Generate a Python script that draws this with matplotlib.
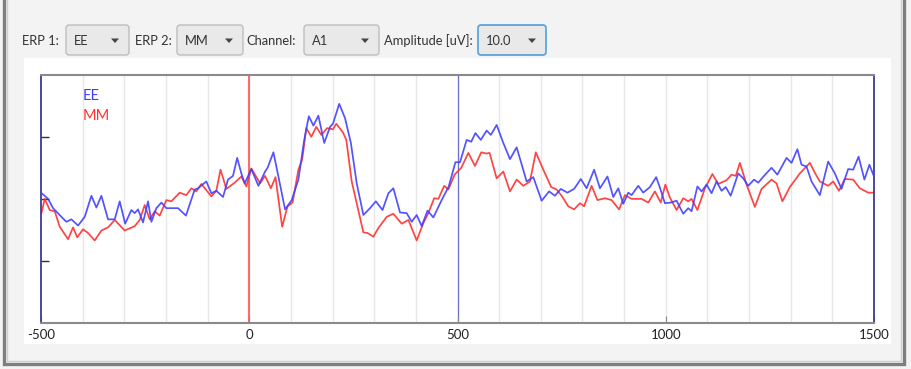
import matplotlib
matplotlib.use("Agg")
import matplotlib.pyplot as plt
from matplotlib.patches import FancyBboxPatch, Rectangle, Polygon

# ERP averages (time in ms, amplitude in uV)
ee_t = [-500, -483, -471, -451, -439, -427, -411, -395, -379, -367, -355, -339, -323, -311,
        -298, -283, -275, -267, -255, -243, -235, -223, -211, -199, -171, -152, -131, -123,
        -103, -91, -79, -63, -51, -39, -29, -19, -11, 5, 22, 38, 44, 58, 70, 86, 102, 118,
        132, 143, 154, 166, 180, 194, 201, 216, 230, 244, 258, 274, 290, 304, 320, 334, 346,
        362, 378, 390, 402, 414, 428, 442, 462, 479, 495, 506, 522, 533, 543, 556, 570, 580,
        594, 610, 626, 642, 666, 682, 702, 720, 734, 748, 764, 780, 796, 810, 828, 842, 860,
        874, 886, 898, 910, 918, 934, 946, 962, 977, 985, 998, 1012, 1026, 1042, 1054, 1062,
        1076, 1086, 1098, 1110, 1122, 1134, 1144, 1156, 1174, 1186, 1198, 1212, 1222, 1236,
        1254, 1268, 1290, 1302, 1316, 1326, 1338, 1350, 1370, 1390, 1406, 1422, 1438, 1450,
        1463, 1477, 1489, 1500]
ee_v = [1.0, 0.0, -1.5, -2.9, -3.7, -3.3, -4.3, -2.9, 0.5, -1.4, 0.5, -3.3, -3.3, -0.4,
        -4.0, -1.8, -2.3, -1.7, -3.8, -0.4, -3.7, -1.5, -0.6, -1.5, -1.5, -2.7, 1.5, 1.7,
        2.8, 0.9, 1.3, 0.3, 3.1, 3.7, 6.6, 4.1, 2.5, 4.8, 2.1, 4.4, 5.0, 7.5, 3.6, -1.7, -0.2, 3.1,
        9.5, 13.3, 11.8, 13.4, 9.0, 11.6, 12.1, 15.3, 13.0, 9.0, 2.5, -2.6, -1.5, -0.4, -1.8, 0.9, 1.7,
        -2.2, -2.3, -3.7, -2.6, -4.4, -1.9, -3.0, -0.2, 2.0, 5.9, 5.9, 9.5, 9.2, 10.6, 9.5, 11.0, 10.3,
        11.9, 9.0, 6.4, 8.3, 2.8, 3.5, -0.3, 1.2, 0.5, 1.6, 1.0, 1.6, 3.2, 1.7, 4.7, 1.7, 3.6,
        0.3, 1.7, -0.8, 1.0, 0.6, 2.1, 1.0, 1.9, 3.5, 2.0, -0.7, -0.6, -0.3, -2.4, -1.5, -2.0,
        2.0, 1.2, 2.3, 0.9, 2.8, 1.3, 1.9, 0.5, 4.1, 3.3, 2.1, 3.1, 2.6, 3.7,
        5.0, 3.9, 6.6, 5.8, 8.0, 5.5, 5.2, 2.8, 0.6, 6.0, 4.1, 1.6, 4.8, 4.7,
        6.8, 3.1, 5.5, 3.6]

mm_t = [-500, -491, -479, -467, -455, -435, -423, -413, -399, -387, -371, -355, -339, -323,
        -299, -275, -263, -251, -239, -227, -215, -199, -187, -167, -151, -139, -127, -115,
        -91, -79, -69, -55, -35, -19, -7, 5, 26, 38, 52, 63, 79, 92, 104, 118, 127, 137, 149,
        161, 173, 187, 201, 209, 225, 233, 246, 258, 274, 284, 298, 310, 330, 346, 366, 382,
        402, 418, 430, 444, 454, 468, 478, 493, 509, 526, 542, 557, 569, 577, 594, 610, 626,
        642, 658, 674, 688, 704, 725, 738, 750, 766, 780, 794, 804, 822, 836, 854, 870, 888,
        902, 918, 942, 958, 974, 988, 999, 1010, 1026, 1042, 1054, 1062, 1076, 1094, 1112,
        1126, 1146, 1158, 1168, 1178, 1194, 1214, 1230, 1254, 1266, 1280, 1298, 1322, 1346,
        1358, 1370, 1390, 1402, 1416, 1430, 1450, 1466, 1486, 1500]
mm_v = [-2.6, 0.0, -1.8, -2.0, -4.5, -6.5, -4.6, -6.2, -4.9, -5.5, -6.7, -5.1, -4.6, -3.4,
        -5.1, -4.4, -3.4, -1.0, -3.3, -2.0, -2.7, -0.2, -0.4, 1.0, 0.6, 1.7, 1.2, 2.4,
        0.4, 1.3, 4.7, 1.6, 2.6, 3.6, 2.0, 4.9, 2.5, 3.7, 1.7, 3.5, -4.5, -1.2, -0.6, 4.7, 6.3, 11.4, 10.0,
        11.6, 10.3, 11.4, 11.2, 12.1, 10.7, 9.5, 2.8, -0.7, -5.4, -5.5, -6.1, -4.7, -2.9, -2.4, -4.0, -3.4,
        -6.7, -3.9, -2.3, 0.1, 0.0, 2.1, 1.5, 3.9, 5.0, 7.4, 5.3, 7.5, 7.3, 7.4, 3.3, 4.4, 1.2,
        3.1, 2.1, 2.8, 7.5, 5.0, 1.9, 1.5, 0.5, -1.2, -1.7, -0.7, -1.2, 2.1, -0.2, 0.1, -0.2, -1.7,
        0.6, 0.0, 0.0, -0.6, 1.2, -0.6, 2.3, 0.2, -1.8, 0.1, -0.4, 0.0, -1.8, 1.7, 4.0,
        2.4, 3.0, 3.9, 3.7, 5.8, 2.3, -1.3, 1.6, 3.1, 2.5, -0.4, 1.9, 4.1, 5.8,
        4.2, 2.8, 2.1, 2.8, 1.3, 3.2, 3.1, 1.7, 1.0, 1.0]

x_ticks = [-500, 0, 500, 1000, 1500]
x_tick_labels = ["-500", "0", "500", "1000", "1500"]
amplitude = 10.0
series_names = ["EE", "MM"]

# toolbar: (label, label_x, combo_x0, combo_x1, selected value)
toolbar = [("ERP 1:", 22, 66, 129, "EE"),
           ("ERP 2:", 135, 177, 243, "MM"),
           ("Channel:", 246, 304, 379, "A1"),
           ("Amplitude [uV]:", 384, 478, 546, "10.0")]

W, H = 911, 369
UI_FONT = ["Lato", "DejaVu Sans"]
plt.rcParams["font.family"] = UI_FONT

fig = plt.figure(figsize=(W / 100, H / 100), dpi=100)
fig.patch.set_facecolor("#f3f3f3")

# window chrome drawn in pixel coordinates
ui = fig.add_axes([0, 0, 1, 1], zorder=0)
ui.set_xlim(0, W)
ui.set_ylim(H, 0)
ui.axis("off")
ui.add_patch(Rectangle((4, -5), 900, 369, fill=False, ec="#7e7e7e", lw=2.4))
ui.add_patch(Rectangle((7, -5), 894, 366, fill=False, ec="#cfcfcf", lw=1.0))
ui.add_patch(Rectangle((24, 58), 867, 286, fc="white", ec="none"))

for label, lx, cx0, cx1, value in toolbar:
    ui.text(lx, 41, label, fontsize=9.3, color="#333333", va="center", ha="left")
    focused = value == "10.0"
    ui.add_patch(FancyBboxPatch((cx0, 25), cx1 - cx0, 30,
                                boxstyle="round,pad=0,rounding_size=3",
                                fc="#e9e9e9", ec="#5aa6dc" if focused else "#b8b8b8",
                                lw=1.3 if focused else 0.9))
    ui.text(cx0 + 8, 41, value, fontsize=9.3, color="#333333", va="center", ha="left")
    ax_ = cx1 - 14
    ui.add_patch(Polygon([(ax_ - 4, 38.5), (ax_ + 4, 38.5), (ax_, 43)], closed=True,
                         fc="#444444", ec="none"))

# ERP axes
x0, x1, ytop, ybot = 41, 874, 74.7, 323
ax = fig.add_axes([x0 / W, 1 - ybot / H, (x1 - x0) / W, (ybot - ytop) / H], zorder=1)
ax.set_facecolor("white")
ax.set_xlim(-500, 1500)
ax.set_ylim(-2 * amplitude, 2 * amplitude)

for t in range(-400, 1500, 100):
    ax.axvline(t, color="#e8e8e8", lw=1.0, zorder=0)
ax.axvline(0, color="#ff6a6a", lw=1.5, zorder=1)
ax.axvline(500, color="#6f6fd0", lw=0.9, zorder=1)

ax.plot(ee_t, ee_v, color="#4040ff", lw=1.25, alpha=0.9, zorder=3,
        solid_joinstyle="round", solid_capstyle="round")
ax.plot(mm_t, mm_v, color="#ff3030", lw=1.25, alpha=0.9, zorder=2,
        solid_joinstyle="round", solid_capstyle="round")

ax.text(0.05, 0.915, series_names[0], transform=ax.transAxes, color="#3c3cff",
        fontsize=10.5, va="center", ha="left")
ax.text(0.05, 0.835, series_names[1], transform=ax.transAxes, color="#ff3030",
        fontsize=10.5, va="center", ha="left")

for side in ("left", "right"):
    ax.spines[side].set_color("#3a3a9a")
    ax.spines[side].set_linewidth(1.3)
for side in ("top", "bottom"):
    ax.spines[side].set_color("#8a8a8a")
    ax.spines[side].set_linewidth(1.5)

ax.set_xticks(x_ticks)
ax.set_xticklabels(x_tick_labels)
ax.set_yticks([-amplitude, 0, amplitude])
ax.set_yticklabels([])
ax.tick_params(axis="x", direction="in", length=5, color="#888888", labelsize=9.5,
               labelcolor="#222222", pad=4)
ax.tick_params(axis="y", direction="in", length=6, color="#333333", width=1.0)

fig.savefig("out.png", dpi=100, facecolor=fig.get_facecolor())
